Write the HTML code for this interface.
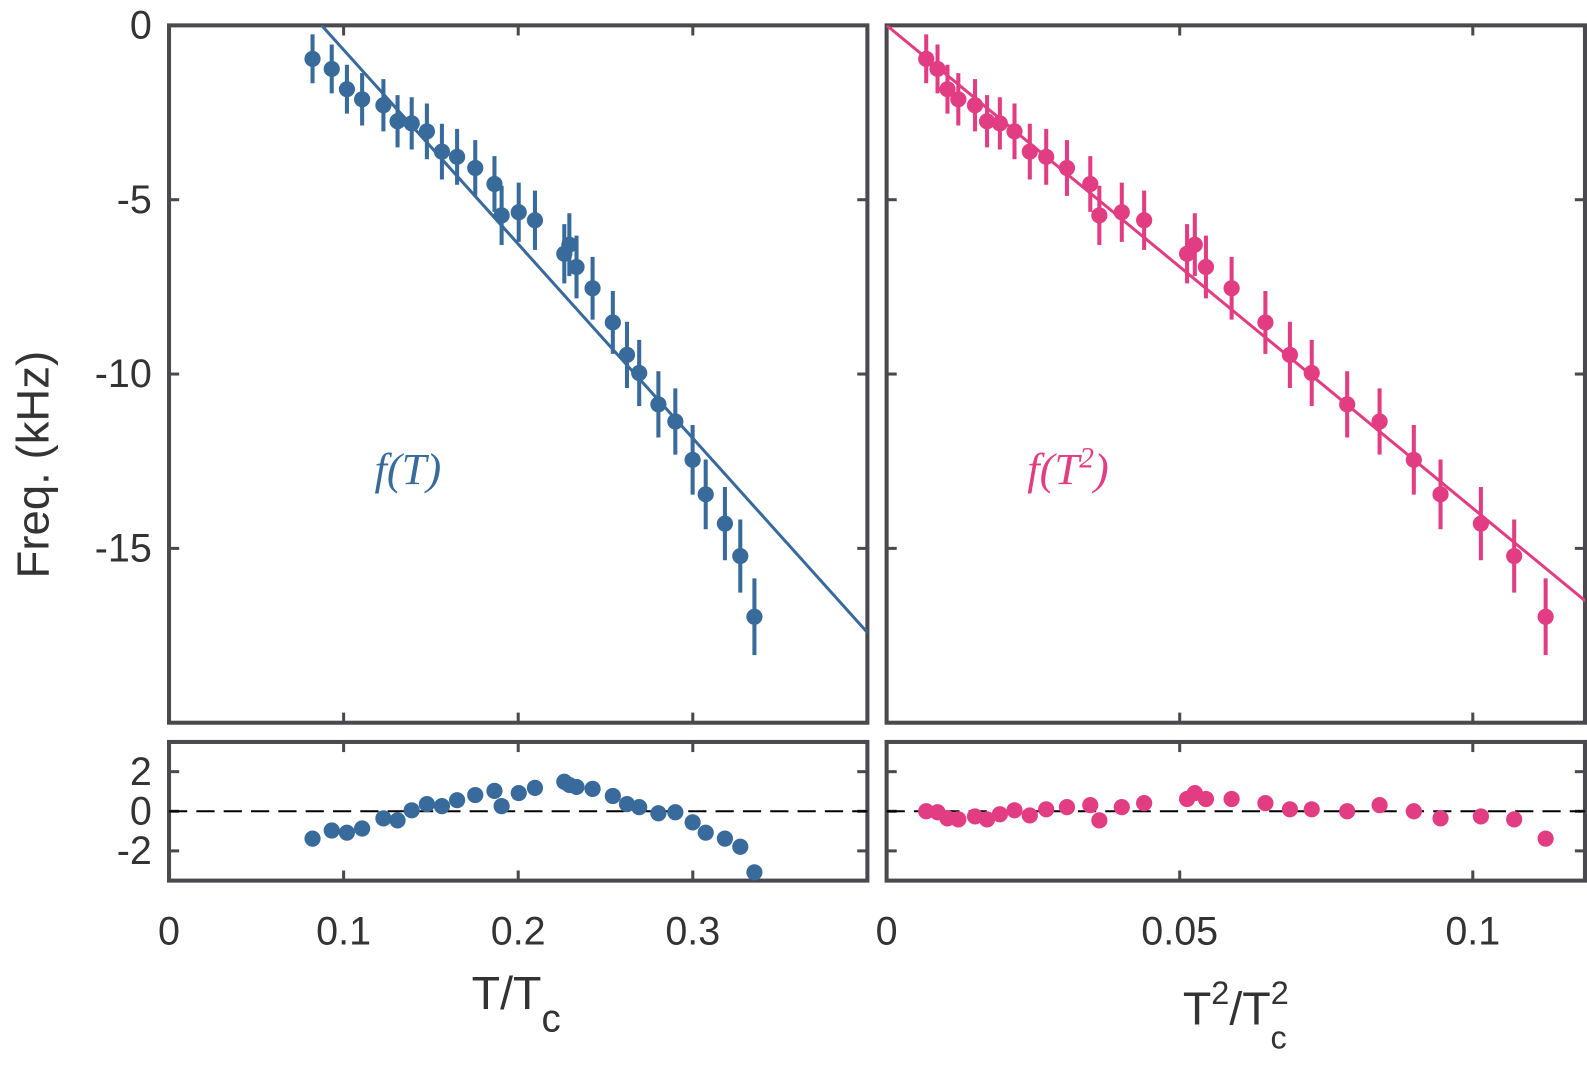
<!DOCTYPE html>
<html><head><meta charset="utf-8"><style>
html,body{margin:0;padding:0;background:#fff;overflow:hidden;width:1587px;height:1075px}
svg{display:block}
svg text{font-family:"Liberation Sans",sans-serif;fill:#333}
</style></head><body>
<svg id="c" width="1587" height="1075" viewBox="0 0 1568 1062" xmlns="http://www.w3.org/2000/svg" style="position:absolute;left:0;top:0"></svg>
<script>
const T=[0.0822,0.0932,0.1019,0.1106,0.1228,0.1309,0.139,0.1477,0.1563,0.165,0.1754,0.1864,0.1905,0.2003,0.2096,0.2264,0.2293,0.2334,0.2426,0.2542,0.2623,0.2693,0.2803,0.29,0.2999,0.3074,0.3184,0.3272,0.3353];
const freq=[-0.96,-1.25,-1.83,-2.12,-2.29,-2.75,-2.81,-3.04,-3.62,-3.77,-4.09,-4.55,-5.45,-5.36,-5.59,-6.55,-6.29,-6.93,-7.54,-8.52,-9.45,-9.97,-10.87,-11.36,-12.46,-13.45,-14.29,-15.22,-16.96];
const err=[0.7,0.7,0.7,0.75,0.75,0.75,0.75,0.8,0.8,0.8,0.8,0.8,0.85,0.85,0.85,0.85,0.9,0.9,0.9,0.9,0.95,0.95,0.95,0.95,1.0,1.0,1.05,1.05,1.1];
const resT=[-1.38,-0.97,-1.08,-0.87,-0.36,-0.46,0.05,0.36,0.26,0.56,0.82,1.03,0.26,0.92,1.18,1.49,1.33,1.23,1.13,0.77,0.36,0.21,-0.1,-0.05,-0.56,-1.08,-1.38,-1.79,-3.08];
const resT2=[0.0,-0.05,-0.36,-0.41,-0.26,-0.41,-0.15,0.05,-0.21,0.1,0.21,0.31,-0.46,0.21,0.41,0.62,0.92,0.62,0.62,0.41,0.1,0.1,0.0,0.31,0.0,-0.36,-0.26,-0.41,-1.38];
const fitL=[-55.7,0.0874], fitR=[-138.5,0];
const xTicksL=[0,0.1,0.2,0.3], xTickLabL=["0","0.1","0.2","0.3"];
const xTicksR=[0,0.05,0.1], xTickLabR=["0","0.05","0.1"];
const yTicks=[0,-5,-10,-15], yTickLab=["0","-5","-10","-15"];
const rTicks=[2,0,-2], rTickLab=["2","0","-2"];

const svg=document.getElementById('c');const NS='http://www.w3.org/2000/svg';
function mk(t,a,p){const e=document.createElementNS(NS,t);for(const k in a)e.setAttribute(k,a[k]);(p||svg).appendChild(e);return e;}
const BLUE='#386a9b',PINK='#e23d82',AX='#4a4a4e';
const L={x0:167,x1:857,xmin:0,xmax:0.4}, R={x0:876,x1:1571,xmin:0,xmax:0.12};
const main={y0:25,y1:714,ymax:0,ymin:-20}, res={y0:733,y1:870,ymax:3.5,ymin:-3.5};
const sx=(P,v)=>P.x0+(v-P.xmin)/(P.xmax-P.xmin)*(P.x1-P.x0);
const sy=(Q,v)=>Q.y0+(Q.ymax-v)/(Q.ymax-Q.ymin)*(Q.y1-Q.y0);
const T2=T.map(t=>t*t);

function panel(P,Q,name,xt,yt,showY,showX,xl){
  const g=mk('g',{});
  
  
  const right=Math.min(P.x1,1566);
  xt.forEach(v=>{const x=sx(P,v);
    const t1=mk('line',{x1:x,x2:x,y1:Q.y1,y2:Q.y1-10,stroke:AX,'stroke-width':3},g);
    
    mk('line',{x1:x,x2:x,y1:Q.y0,y2:Q.y0+10,stroke:AX,'stroke-width':3},g);
    if(showX){const tx=mk('text',{x:x,y:933,'font-size':39,'text-anchor':'middle'},g);tx.textContent=xl[xt.indexOf(v)];
      }
  });
  yt.forEach((v,i)=>{const y=sy(Q,v);
    mk('line',{x1:P.x0,x2:P.x0+10,y1:y,y2:y,stroke:AX,'stroke-width':3},g);
    mk('line',{x1:right,x2:right-10,y1:y,y2:y,stroke:AX,'stroke-width':3},g);
    if(showY){const tx=mk('text',{x:150,y:y+13,'font-size':39,'text-anchor':'end'},g);tx.textContent=showY[i];
      }
  });
  const f=mk('rect',{x:P.x0,y:Q.y0,width:right-P.x0,height:Q.y1-Q.y0,fill:'none',stroke:AX,'stroke-width':4},g);
  
}
function series(P,Q,xs,ys,es,col,nm){
  xs.forEach((xv,i)=>{const x=sx(P,xv),y=sy(Q,ys[i]);
    if(es){const b=mk('line',{x1:x,x2:x,y1:sy(Q,ys[i]+es[i]),y2:sy(Q,ys[i]-es[i]),stroke:col,'stroke-width':4});
      }
    const c=mk('circle',{cx:x,cy:y,r:8,fill:col});
    
  });
}
function fit(P,Q,fp,col,nm){
  const clip=mk('clipPath',{id:'cl'+nm});mk('rect',{x:P.x0,y:Q.y0,width:Math.min(P.x1,1566)-P.x0,height:Q.y1-Q.y0},clip);
  const xa=Math.max(P.xmin,fp[1]),xb=P.xmax;
  const l=mk('line',{x1:sx(P,xa),y1:sy(Q,fp[0]*(xa-fp[1])),x2:sx(P,xb),y2:sy(Q,fp[0]*(xb-fp[1])),stroke:col,'stroke-width':3,'clip-path':'url(#cl'+nm+')'});
  
}
function zero(P,Q){const l=mk('line',{x1:P.x0,x2:Math.min(P.x1,1566),y1:sy(Q,0),y2:sy(Q,0),stroke:'#000','stroke-width':2,'stroke-dasharray':'18,9'});
  }

panel(L,main,'left-main-panel',xTicksL,yTicks,yTickLab,false,xTickLabL);
panel(R,main,'right-main-panel',xTicksR,yTicks,null,false,xTickLabR);
panel(L,res,'left-residual-panel',xTicksL,rTicks,rTickLab,true,xTickLabL);
panel(R,res,'right-residual-panel',xTicksR,rTicks,null,true,xTickLabR);
zero(L,res);zero(R,res);
fit(L,main,fitL,BLUE,'fit-line-t');fit(R,main,fitR,PINK,'fit-line-t2');
series(L,main,T,freq,err,BLUE,'data-point-t');
series(R,main,T2,freq,err,PINK,'data-point-t2');
series(L,res,T,resT,null,BLUE,'residual-point-t');
series(R,res,T2,resT2,null,PINK,'residual-point-t2');
</script>
<svg style="position:absolute;left:0;top:0" width="1587" height="1075" viewBox="0 0 1568 1062" xmlns="http://www.w3.org/2000/svg">
<text transform="translate(48,459) rotate(-90)" font-size="45" text-anchor="middle">Freq. (kHz)</text>
<text x="510" y="997" font-size="46" text-anchor="middle">T/T<tspan font-size="38" dy="22">c</tspan></text>
<text x="1221" y="1012" font-size="46" text-anchor="middle">T<tspan font-size="32" dy="-20">2</tspan><tspan dy="20">/T</tspan><tspan font-size="32" dy="-20">2</tspan><tspan font-size="32" dx="-18" dy="44">c</tspan></text>
<text x="370" y="478" font-size="44" font-style="italic" style="font-family:'Liberation Serif',serif;fill:#386a9b">f(T)</text>
<text x="1015" y="478" font-size="44" font-style="italic" style="font-family:'Liberation Serif',serif;fill:#e23d82">f(T<tspan font-size="29" dy="-16">2</tspan><tspan dy="16">)</tspan></text>
</svg>
</body></html>
